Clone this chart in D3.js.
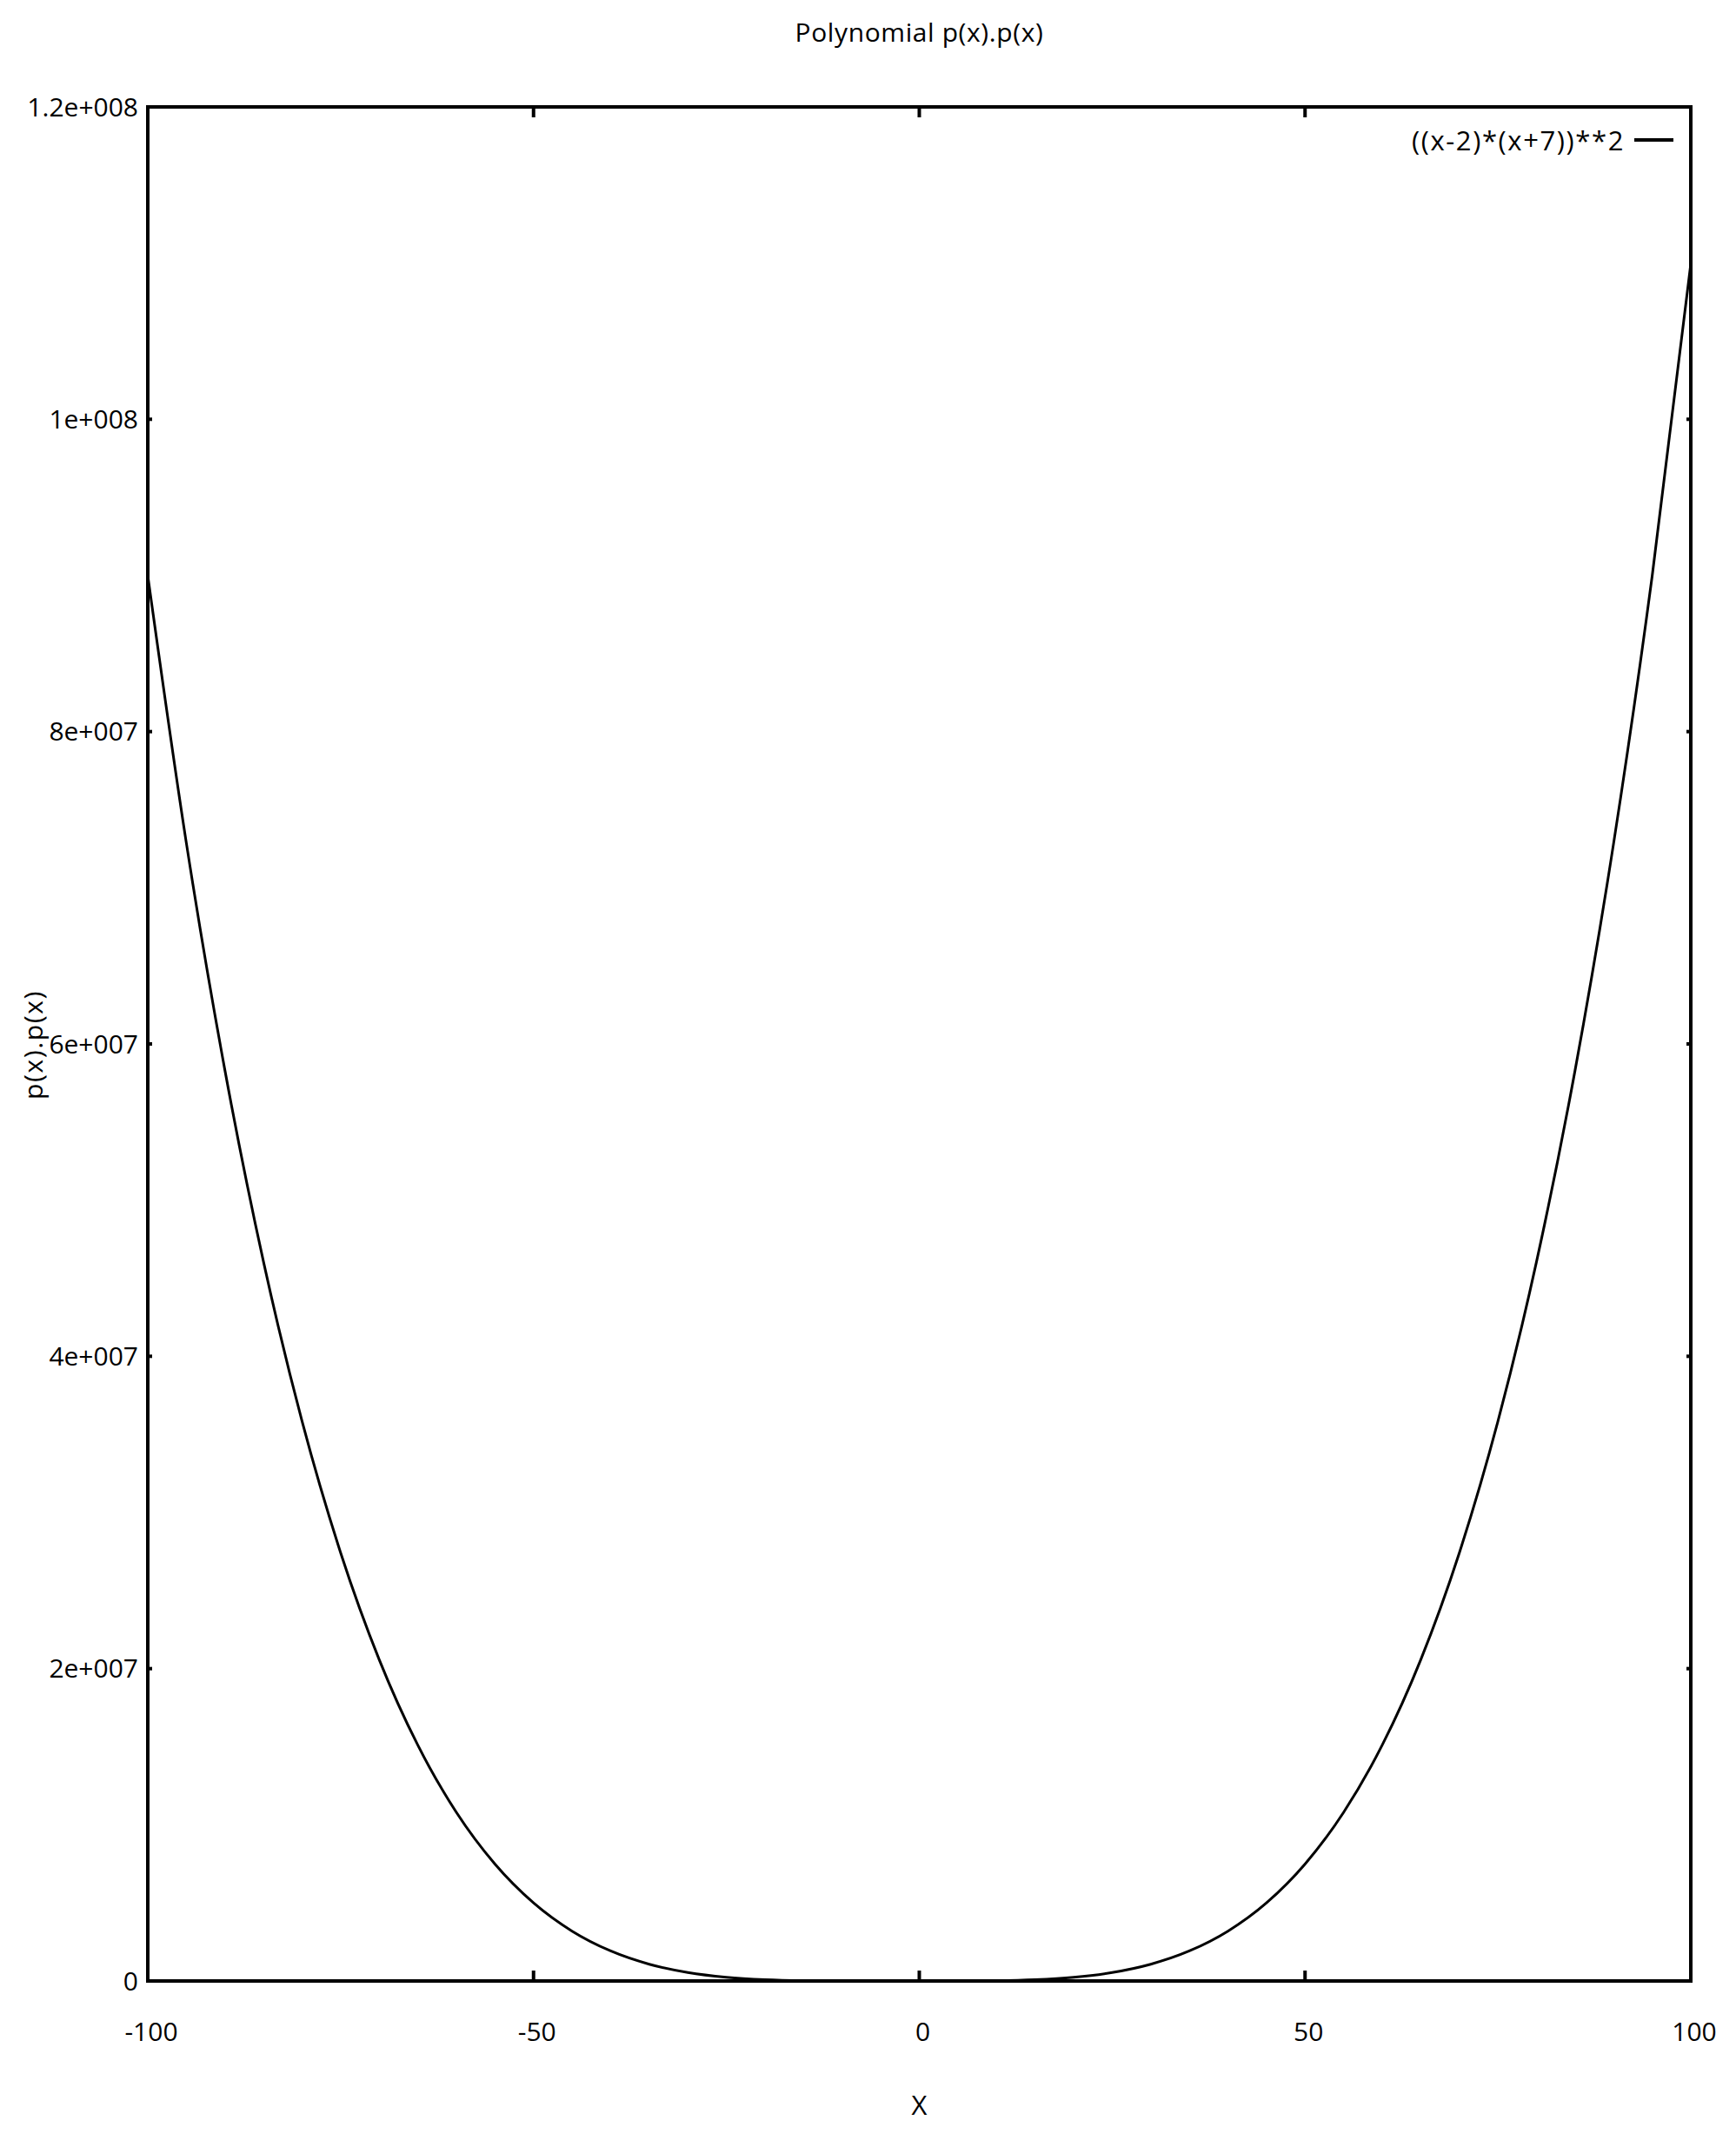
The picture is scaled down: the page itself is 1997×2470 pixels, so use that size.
<!DOCTYPE html>
<html>
<head>
<meta charset="utf-8">
<script src="https://cdn.jsdelivr.net/npm/d3@7"></script>
<style>
  body { margin: 0; background: white; }
  text { font-family: "Open Sans", Tahoma, sans-serif; fill: black; }
</style>
</head>
<body>
<div class="canvas"></div>
<script>
var width = 1997;
var height = 2470;

var xValues = [-100, -95, -90, -85, -80, -75, -70, -65, -60, -55, -50, -45, -40, -35, -30, -25, -20, -15, -10, -5,
    0, 5, 10, 15, 20, 25, 30, 35, 40, 45, 50, 55, 60, 65, 70, 75, 80, 85, 90, 95, 100];
var yValues = [89984196, 72863296, 58308496, 46049796, 35832196, 27415696, 20575296, 15100996, 10797796, 7485696,
    4999696, 3189796, 1920996, 1073296, 541696, 236196, 81796, 18496, 1296, 196,
    196, 1296, 18496, 81796, 236196, 541696, 1073296, 1920996, 3189796, 4999696,
    7485696, 10797796, 15100996, 20575296, 27415696, 35832196, 46049796, 58308496, 72863296, 89984196, 109956196];

var xTicks = [-100, -50, 0, 50, 100];
var yTicks = [0, 2e7, 4e7, 6e7, 8e7, 1e8, 1.2e8];
var yTickLabels = ["0", "2e+007", "4e+007", "6e+007", "8e+007", "1e+008", "1.2e+008"];

var titleText = "Polynomial p(x).p(x)";
var xLabel = "X";
var yLabel = "p(x).p(x)";
var legendText = "((x-2)*(x+7))**2";

var plot = { left: 170, right: 1945, top: 123, bottom: 2279 };

var svg = d3.select(".canvas").append("svg")
    .attr("width", width)
    .attr("height", height)
    .style("background", "white");

var x = d3.scaleLinear().domain([-100, 100]).range([plot.left, plot.right]);
var y = d3.scaleLinear().domain([0, 1.2e8]).range([plot.bottom, plot.top]);

var points = xValues.map((d, i) => ({ x: d, y: yValues[i] }));

// curve
var line = d3.line()
    .x(d => x(d.x))
    .y(d => y(d.y))
    .curve(d3.curveMonotoneX);

svg.append("defs").append("clipPath").attr("id", "clip")
    .append("rect")
    .attr("x", plot.left).attr("y", plot.top)
    .attr("width", plot.right - plot.left).attr("height", plot.bottom - plot.top);

svg.append("path")
    .datum(points)
    .attr("d", line)
    .attr("clip-path", "url(#clip)")
    .style("fill", "none")
    .style("stroke", "black")
    .style("stroke-width", 3)
    .style("stroke-linejoin", "round");

// ticks (inward, on all four sides)
var tickGroup = svg.append("g").style("stroke", "black");

tickGroup.selectAll("line.xb")
    .data(xTicks)
    .enter().append("line")
    .attr("class", "xb")
    .attr("x1", d => x(d)).attr("x2", d => x(d))
    .attr("y1", plot.bottom).attr("y2", plot.bottom - 12)
    .style("stroke-width", 4);

tickGroup.selectAll("line.xt")
    .data(xTicks)
    .enter().append("line")
    .attr("class", "xt")
    .attr("x1", d => x(d)).attr("x2", d => x(d))
    .attr("y1", plot.top).attr("y2", plot.top + 12)
    .style("stroke-width", 4);

tickGroup.selectAll("line.yl")
    .data(yTicks)
    .enter().append("line")
    .attr("class", "yl")
    .attr("x1", plot.left).attr("x2", plot.left + 5)
    .attr("y1", d => y(d)).attr("y2", d => y(d))
    .style("stroke-width", 4);

tickGroup.selectAll("line.yr")
    .data(yTicks)
    .enter().append("line")
    .attr("class", "yr")
    .attr("x1", plot.right).attr("x2", plot.right - 5)
    .attr("y1", d => y(d)).attr("y2", d => y(d))
    .style("stroke-width", 4);

// border
svg.append("rect")
    .attr("x", plot.left)
    .attr("y", plot.top)
    .attr("width", plot.right - plot.left)
    .attr("height", plot.bottom - plot.top)
    .style("fill", "none")
    .style("stroke", "black")
    .style("stroke-width", 4);

// tick labels
svg.selectAll("text.ylab")
    .data(yTicks)
    .enter().append("text")
    .attr("class", "ylab")
    .attr("x", plot.left - 11)
    .attr("y", d => y(d))
    .attr("dy", "0.36em")
    .attr("text-anchor", "end")
    .style("font-size", "30px")
    .text((d, i) => yTickLabels[i]);

svg.selectAll("text.xlab")
    .data(xTicks)
    .enter().append("text")
    .attr("class", "xlab")
    .attr("x", d => x(d) + 4)
    .attr("y", plot.bottom + 69)
    .attr("text-anchor", "middle")
    .style("font-size", "30px")
    .text(d => d);

// titles
svg.append("text")
    .attr("x", (plot.left + plot.right) / 2)
    .attr("y", 48)
    .attr("text-anchor", "middle")
    .style("font-size", "30px")
    .style("letter-spacing", "0.6px")
    .text(titleText);

svg.append("text")
    .attr("x", (plot.left + plot.right) / 2)
    .attr("y", 2433)
    .attr("text-anchor", "middle")
    .style("font-size", "31px")
    .text(xLabel);

svg.append("text")
    .attr("transform", "translate(49,1202) rotate(-90)")
    .attr("text-anchor", "middle")
    .style("font-size", "30px")
    .style("letter-spacing", "1.6px")
    .text(yLabel);

// legend
svg.append("text")
    .attr("x", 1869)
    .attr("y", 162)
    .attr("dy", "0.36em")
    .attr("text-anchor", "end")
    .style("font-size", "31px")
    .style("letter-spacing", "1.6px")
    .text(legendText);

svg.append("line")
    .attr("x1", 1880).attr("x2", 1925)
    .attr("y1", 161).attr("y2", 161)
    .style("stroke", "black")
    .style("stroke-width", 4);
</script>
</body>
</html>
